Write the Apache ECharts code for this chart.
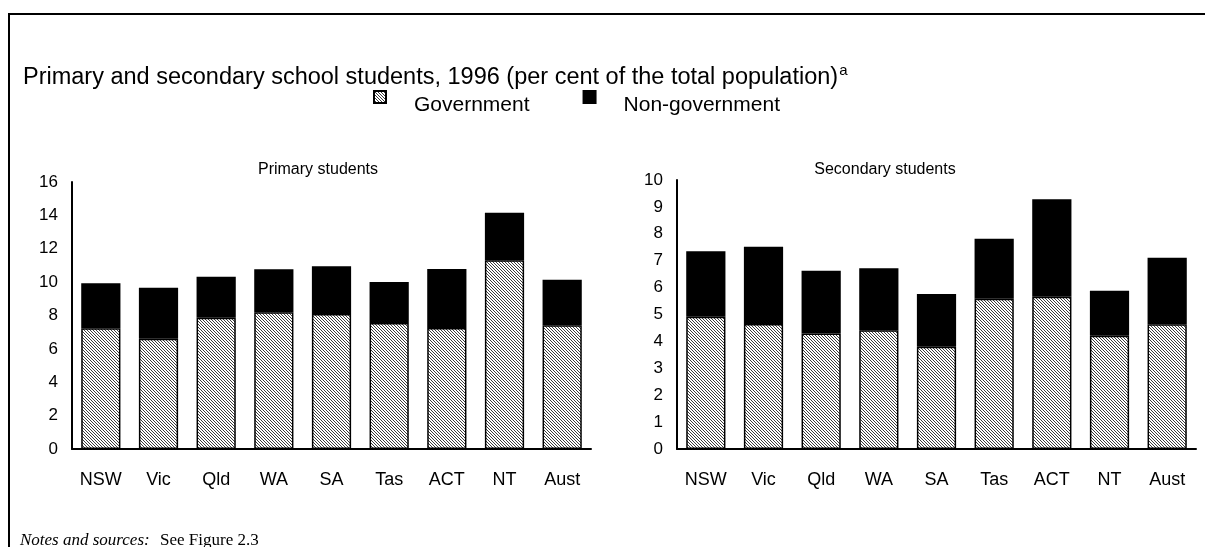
<!DOCTYPE html>
<html><head><meta charset="utf-8">
<script src="https://cdn.jsdelivr.net/npm/echarts@6/dist/echarts.min.js"></script>
<style>html,body{margin:0;padding:0;background:#fff}#c{width:1205px;height:547px}</style>
</head><body><div id="c"></div>
<script>
const categories = ['NSW','Vic','Qld','WA','SA','Tas','ACT','NT','Aust'];
const primaryGov = [7.23, 6.61, 7.87, 8.19, 8.09, 7.55, 7.25, 11.31, 7.41];
const primaryNonGov = [2.70, 3.05, 2.45, 2.58, 2.86, 2.46, 3.53, 2.85, 2.73];
const secondaryGov = [4.92, 4.65, 4.29, 4.41, 3.80, 5.59, 5.66, 4.21, 4.64];
const secondaryNonGov = [2.43, 2.87, 2.34, 2.31, 1.96, 2.23, 3.62, 1.67, 2.47];
const primaryTicks = [0, 16, 2];
const secondaryTicks = [0, 10, 1];

function hatch() {
  const n = 3;
  const c = document.createElement('canvas');
  c.width = n; c.height = n;
  const ctx = c.getContext('2d');
  const img = ctx.createImageData(n, n);
  for (let y = 0; y < n; y++) for (let x = 0; x < n; x++) {
    const i = (y * n + x) * 4;
    const dark = ((x - y + n) % n) === 0;
    const v = dark ? 60 : 255;
    img.data[i] = v; img.data[i+1] = v; img.data[i+2] = v; img.data[i+3] = 255;
  }
  ctx.putImageData(img, 0, 0);
  return c;
}
const pattern = { image: hatch(), repeat: 'repeat' };
const font = 'Liberation Sans, Arial, sans-serif';
const serif = 'Liberation Serif, Times New Roman, serif';

const chart = echarts.init(document.getElementById('c'), null, { renderer: 'canvas' });
const axisLine = { show: true, lineStyle: { color: '#000', width: 2 } };
function xAxis(idx) {
  return {
    type: 'category', gridIndex: idx, data: categories,
    axisLine: axisLine, axisTick: { show: false },
    axisLabel: { color: '#000', fontFamily: font, fontSize: 18, margin: 22 }
  };
}
function yAxis(idx, t) {
  return {
    type: 'value', gridIndex: idx, min: t[0], max: t[1], interval: t[2],
    axisLine: axisLine, axisTick: { show: false }, splitLine: { show: false },
    axisLabel: { color: '#000', fontFamily: font, fontSize: 17, margin: 14 }
  };
}
const govStyle = { color: pattern, borderColor: '#000', borderWidth: 1.5 };
const nonStyle = { color: '#000', borderColor: '#000', borderWidth: 1.5 };
function bar(name, idx, data, style, stack) {
  return { name: name, type: 'bar', xAxisIndex: idx, yAxisIndex: idx, stack: stack,
    data: data, itemStyle: style, barWidth: '68%', silent: true, animation: false };
}
chart.setOption({
  animation: false,
  title: [
    { text: '{t|Primary and secondary school students, 1996 (per cent of the total population)}{s|a}',
      left: 18, top: 58,
      textStyle: { rich: {
        t: { fontFamily: font, fontSize: 23.5, fontWeight: 'normal', color: '#000' },
        s: { fontFamily: font, fontSize: 15, fontWeight: 'normal', color: '#000', verticalAlign: 'top', padding: [0,0,14,1] }
      } } },
    { text: 'Primary students', left: 313, top: 157, textAlign: 'center',
      textStyle: { fontFamily: font, fontSize: 16, fontWeight: 'normal', color: '#000' } },
    { text: 'Secondary students', left: 880, top: 157, textAlign: 'center',
      textStyle: { fontFamily: font, fontSize: 16, fontWeight: 'normal', color: '#000' } }
  ],
  legend: {
    left: 373, top: 90, padding: 0, itemWidth: 12, itemHeight: 12, itemGap: 53,
    icon: 'rect',
    data: ['Government', 'Non-government'],
    formatter: '{a|{name}}',
    textStyle: { fontFamily: font, fontSize: 21, color: '#000', padding: [0, 0, 0, 23],
      rich: { a: { fontFamily: font, fontSize: 21, color: '#000', padding: [16, 0, 0, 0] } } },
    selectedMode: false
  },
  grid: [
    { left: 72, right: 614, top: 182, bottom: 98 },
    { left: 677, right: 9, top: 180, bottom: 98 }
  ],
  xAxis: [xAxis(0), xAxis(1)],
  yAxis: [yAxis(0, primaryTicks), yAxis(1, secondaryTicks)],
  series: [
    bar('Government', 0, primaryGov, govStyle, 'p'),
    bar('Non-government', 0, primaryNonGov, nonStyle, 'p'),
    bar('Government', 1, secondaryGov, govStyle, 's'),
    bar('Non-government', 1, secondaryNonGov, nonStyle, 's')
  ],
  graphic: [
    { type: 'line', shape: { x1: 8, y1: 14, x2: 1205, y2: 14 }, style: { stroke: '#000', lineWidth: 2 } },
    { type: 'line', shape: { x1: 9, y1: 13, x2: 9, y2: 547 }, style: { stroke: '#000', lineWidth: 2 } },
    { type: 'text', left: 20, top: 532, style: { text: 'Notes and sources:', fontFamily: serif, fontStyle: 'italic', fontSize: 17, fill: '#000' } },
    { type: 'text', left: 160, top: 532, style: { text: 'See Figure 2.3', fontFamily: serif, fontSize: 17, fill: '#000' } }
  ]
});
</script></body></html>
